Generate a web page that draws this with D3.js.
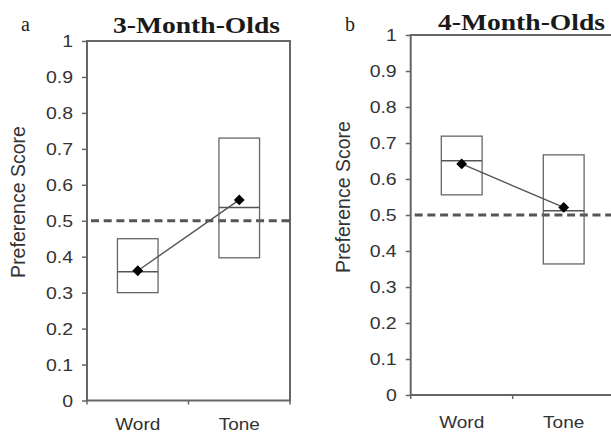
<!DOCTYPE html>
<html><head><meta charset="utf-8">
<script src="https://cdn.jsdelivr.net/npm/d3@7"></script>
<style>body{margin:0;background:#fff}svg{display:block}</style>
</head><body>
<svg id="c" width="611" height="435"></svg>
<script>
const categories = ["Word", "Tone"];
const yTicks = [0, 0.1, 0.2, 0.3, 0.4, 0.5, 0.6, 0.7, 0.8, 0.9, 1];
const chance = 0.5;
// Panel a: 3-Month-Olds
const aUpper  = [0.450, 0.730];
const aLower  = [0.300, 0.397];
const aMedian = [0.358, 0.537];
const aMean   = [0.361, 0.558];
// Panel b: 4-Month-Olds
const bUpper  = [0.719, 0.667];
const bLower  = [0.556, 0.364];
const bMedian = [0.651, 0.512];
const bMean   = [0.642, 0.521];

const panels = [
  {letter:"a", title:"3-Month-Olds", upper:aUpper, lower:aLower, median:aMedian, mean:aMean,
   x0:87, x1:290, yTop:41, yBot:400.5, letterX:21, letterY:31, titleX:113, titleW:167, titleY:33,
   ylabX:18, ylabY:202, catY:430},
  {letter:"b", title:"4-Month-Olds", upper:bUpper, lower:bLower, median:bMedian, mean:bMean,
   x0:410.7, x1:614.7, yTop:35, yBot:395, letterX:345, letterY:31, titleX:438, titleW:167, titleY:30,
   ylabX:343, ylabY:197, catY:428}
];

const svg = d3.select("#c");
const axisCol = "#666", textCol = "#333";

panels.forEach(p => {
  const g = svg.append("g");
  const x = d3.scalePoint().domain(categories).range([p.x0, p.x1]).padding(0.5);
  const y = d3.scaleLinear().domain([0, 1]).range([p.yBot, p.yTop]);
  const bw = x.step() * 0.4;

  // frame
  g.append("rect").attr("x", p.x0).attr("y", p.yTop).attr("width", p.x1 - p.x0).attr("height", p.yBot - p.yTop)
    .attr("fill", "none").attr("stroke", axisCol).attr("stroke-width", 2);

  // y axis
  const ya = d3.axisLeft(y).tickValues(yTicks).tickFormat(d3.format("")).tickSize(5).tickPadding(3);
  const yg = g.append("g").attr("transform", `translate(${p.x0},0)`).call(ya);
  yg.select(".domain").remove();
  yg.selectAll(".tick line").attr("stroke", axisCol).attr("stroke-width", 1.5);
  yg.selectAll(".tick text").attr("font-family", "Liberation Sans, Arial, sans-serif")
    .attr("font-size", 16.5).attr("fill", textCol).attr("x", 0).attr("dy", "0.36em")
    .attr("transform", "translate(-14,0) scale(1.18,1)");

  // bottom ticks at category boundaries
  const bounds = [p.x0, (p.x0 + p.x1) / 2, p.x1];
  g.selectAll(".bt").data(bounds).join("line")
    .attr("x1", d => d).attr("x2", d => d).attr("y1", p.yBot).attr("y2", p.yBot + 4)
    .attr("stroke", axisCol).attr("stroke-width", 1.5);

  // category labels
  g.selectAll(".cat").data(categories).join("text")
    .attr("transform", d => `translate(${x(d)},${p.catY}) scale(1.12,1)`)
    .attr("text-anchor", "middle").attr("font-family", "Liberation Sans, Arial, sans-serif")
    .attr("font-size", 17).attr("fill", textCol).text(d => d);

  // chance line
  g.append("line").attr("x1", p.x0 + 4).attr("x2", p.x1).attr("y1", y(chance)).attr("y2", y(chance))
    .attr("stroke", "#555").attr("stroke-width", 3).attr("stroke-dasharray", "8,4.7");

  // boxes
  categories.forEach((c, i) => {
    g.append("rect").attr("x", x(c) - bw / 2).attr("y", y(p.upper[i]))
      .attr("width", bw).attr("height", y(p.lower[i]) - y(p.upper[i]))
      .attr("fill", "none").attr("stroke", "#666").attr("stroke-width", 1.3);
    g.append("line").attr("x1", x(c) - bw / 2).attr("x2", x(c) + bw / 2)
      .attr("y1", y(p.median[i])).attr("y2", y(p.median[i]))
      .attr("stroke", "#555").attr("stroke-width", 1.5);
  });

  // mean line
  const line = d3.line().x((d, i) => x(categories[i])).y(d => y(d));
  g.append("path").attr("d", line(p.mean)).attr("fill", "none").attr("stroke", "#555").attr("stroke-width", 1.4);

  // diamonds
  const sym = d3.symbol().type(d3.symbolDiamond2).size(75);
  g.selectAll(".mk").data(p.mean).join("path")
    .attr("d", sym).attr("transform", (d, i) => `translate(${x(categories[i])},${y(d)})`)
    .attr("fill", "#000");

  // y label
  g.append("text").attr("transform", `translate(${p.ylabX},${p.ylabY}) rotate(-90)`)
    .attr("text-anchor", "middle").attr("dy", "0.35em")
    .attr("font-family", "Liberation Sans, Arial, sans-serif").attr("font-size", 19.5)
    .attr("fill", textCol).text("Preference Score");

  // panel letter
  g.append("text").attr("x", p.letterX).attr("y", p.letterY)
    .attr("font-family", "Liberation Serif, Times New Roman, serif").attr("font-size", 20)
    .attr("fill", "#222").text(p.letter);

  // title
  g.append("text").attr("x", p.titleX).attr("y", p.titleY)
    .attr("textLength", p.titleW).attr("lengthAdjust", "spacingAndGlyphs")
    .attr("font-family", "Liberation Serif, Times New Roman, serif").attr("font-weight", "bold")
    .attr("font-size", 22.5).attr("fill", "#1a1a1a").text(p.title);
});
</script>
</body></html>
